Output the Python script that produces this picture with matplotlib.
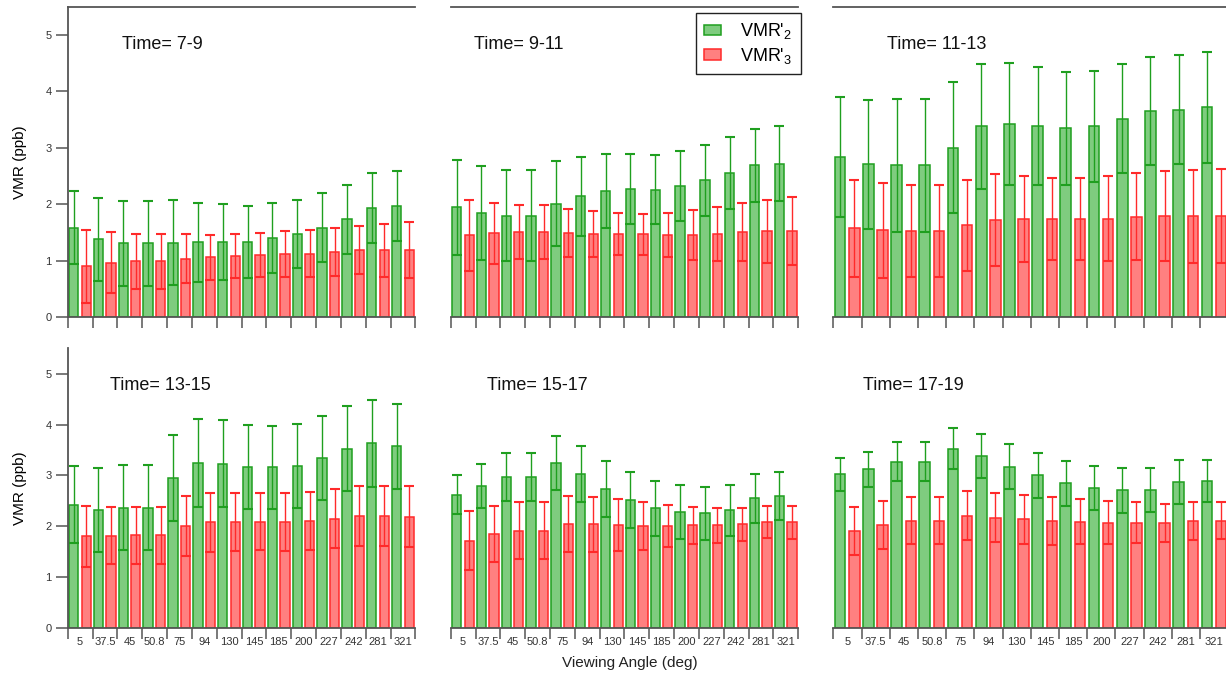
import numpy as np
import matplotlib
matplotlib.use("Agg")
import matplotlib.pyplot as plt
from matplotlib.patches import Patch

plt.rcParams['font.family'] = ['Liberation Sans', 'DejaVu Sans']
plt.rcParams['mathtext.default'] = 'regular'

angles = ['5', '37.5', '45', '50.8', '75', '94', '130', '145', '185', '200', '227', '242', '281', '321']
times = ['7-9', '9-11', '11-13', '13-15', '15-17', '17-19']

# VMR'2 (green) and VMR'3 (red), with error bars, one set per time window
vmr2_7_9 = [1.59, 1.38, 1.31, 1.31, 1.32, 1.33, 1.33, 1.34, 1.40, 1.48, 1.59, 1.74, 1.94, 1.98]
err2_7_9 = [0.65, 0.74, 0.75, 0.75, 0.75, 0.70, 0.67, 0.64, 0.62, 0.60, 0.61, 0.61, 0.62, 0.62]
vmr3_7_9 = [0.90, 0.97, 0.99, 0.99, 1.04, 1.06, 1.09, 1.10, 1.12, 1.13, 1.16, 1.19, 1.19, 1.19]
err3_7_9 = [0.65, 0.54, 0.49, 0.49, 0.43, 0.40, 0.39, 0.39, 0.40, 0.41, 0.42, 0.43, 0.47, 0.49]

vmr2_9_11 = [1.95, 1.85, 1.80, 1.80, 2.01, 2.14, 2.24, 2.28, 2.26, 2.33, 2.43, 2.56, 2.69, 2.72]
err2_9_11 = [0.84, 0.83, 0.81, 0.81, 0.75, 0.70, 0.65, 0.62, 0.61, 0.62, 0.63, 0.64, 0.65, 0.66]
vmr3_9_11 = [1.45, 1.49, 1.51, 1.51, 1.49, 1.48, 1.48, 1.47, 1.45, 1.46, 1.48, 1.51, 1.52, 1.53]
err3_9_11 = [0.63, 0.54, 0.48, 0.48, 0.43, 0.41, 0.37, 0.36, 0.39, 0.44, 0.48, 0.52, 0.56, 0.60]

vmr2_11_13 = [2.84, 2.71, 2.69, 2.69, 3.00, 3.38, 3.42, 3.39, 3.35, 3.38, 3.52, 3.65, 3.68, 3.72]
err2_11_13 = [1.07, 1.14, 1.18, 1.18, 1.16, 1.11, 1.08, 1.04, 1.00, 0.99, 0.97, 0.96, 0.97, 0.98]
vmr3_11_13 = [1.58, 1.54, 1.53, 1.53, 1.63, 1.72, 1.74, 1.74, 1.74, 1.75, 1.78, 1.80, 1.79, 1.79]
err3_11_13 = [0.86, 0.84, 0.81, 0.81, 0.81, 0.81, 0.76, 0.73, 0.73, 0.75, 0.77, 0.80, 0.82, 0.83]

vmr2_13_15 = [2.43, 2.32, 2.37, 2.37, 2.95, 3.25, 3.23, 3.17, 3.16, 3.19, 3.34, 3.53, 3.63, 3.57]
err2_13_15 = [0.75, 0.82, 0.83, 0.83, 0.85, 0.86, 0.85, 0.83, 0.82, 0.82, 0.83, 0.84, 0.85, 0.83]
vmr3_13_15 = [1.81, 1.82, 1.83, 1.83, 2.00, 2.08, 2.09, 2.09, 2.09, 2.11, 2.15, 2.20, 2.20, 2.19]
err3_13_15 = [0.60, 0.56, 0.56, 0.56, 0.59, 0.58, 0.57, 0.56, 0.57, 0.57, 0.58, 0.59, 0.59, 0.60]

vmr2_15_17 = [2.62, 2.79, 2.97, 2.97, 3.24, 3.02, 2.73, 2.51, 2.36, 2.28, 2.26, 2.32, 2.55, 2.59]
err2_15_17 = [0.38, 0.43, 0.47, 0.47, 0.53, 0.55, 0.55, 0.55, 0.54, 0.53, 0.52, 0.50, 0.48, 0.47]
vmr3_15_17 = [1.72, 1.86, 1.92, 1.92, 2.05, 2.04, 2.02, 2.00, 2.01, 2.02, 2.02, 2.04, 2.09, 2.08]
err3_15_17 = [0.58, 0.55, 0.55, 0.55, 0.55, 0.54, 0.51, 0.47, 0.42, 0.37, 0.35, 0.32, 0.32, 0.33]

vmr2_17_19 = [3.02, 3.12, 3.27, 3.27, 3.53, 3.39, 3.17, 3.00, 2.85, 2.76, 2.71, 2.72, 2.88, 2.89]
err2_17_19 = [0.32, 0.34, 0.38, 0.38, 0.40, 0.43, 0.44, 0.44, 0.44, 0.43, 0.44, 0.43, 0.43, 0.41]
vmr3_17_19 = [1.91, 2.02, 2.11, 2.11, 2.21, 2.17, 2.14, 2.11, 2.09, 2.07, 2.07, 2.07, 2.11, 2.11]
err3_17_19 = [0.47, 0.47, 0.46, 0.46, 0.48, 0.48, 0.48, 0.47, 0.44, 0.42, 0.40, 0.38, 0.37, 0.36]

panels = [
    (vmr2_7_9, err2_7_9, vmr3_7_9, err3_7_9),
    (vmr2_9_11, err2_9_11, vmr3_9_11, err3_9_11),
    (vmr2_11_13, err2_11_13, vmr3_11_13, err3_11_13),
    (vmr2_13_15, err2_13_15, vmr3_13_15, err3_13_15),
    (vmr2_15_17, err2_15_17, vmr3_15_17, err3_15_17),
    (vmr2_17_19, err2_17_19, vmr3_17_19, err3_17_19),
]

green_fill, green_edge = '#7fcc7f', '#1f9f1f'
red_fill, red_edge = '#ff8080', '#ff2a2a'
axis_col = '#555555'

fig = plt.figure(figsize=(12.26, 6.75), dpi=100)

# axes rectangles [left, bottom, width, height] in figure fraction
col_x = [(0.0552, 0.2837), (0.3676, 0.2835), (0.6797, 0.3222)]
row_y = [(0.5299, 0.4601), (0.0692, 0.4150)]
label_x = [0.156, 0.068, 0.135, 0.122, 0.104, 0.074]
label_y = [0.880, 0.880, 0.880, 0.866, 0.866, 0.866]

x = np.arange(len(angles))
for k, (v2, e2, v3, e3) in enumerate(panels):
    r, c = divmod(k, 3)
    ax = fig.add_axes([col_x[c][0], row_y[r][0], col_x[c][1], row_y[r][1]])

    ax.bar(x + 0.24, v2, width=0.38, color=green_fill, edgecolor=green_edge, linewidth=1.1, zorder=2)
    ax.bar(x + 0.745, v3, width=0.37, color=red_fill, edgecolor=red_edge, linewidth=1.1, zorder=2)
    ax.errorbar(x + 0.24, v2, yerr=e2, fmt='none', ecolor=green_edge, elinewidth=1.0,
                capsize=3.9, capthick=1.5, zorder=3)
    ax.errorbar(x + 0.745, v3, yerr=e3, fmt='none', ecolor=red_edge, elinewidth=1.0,
                capsize=3.9, capthick=1.5, zorder=3)

    ax.set_xlim(0, len(angles))
    ax.set_ylim(0, 5.5)

    ax.spines['right'].set_visible(False)
    ax.spines['top'].set_visible(r == 0)
    ax.spines['left'].set_visible(c == 0)
    for s in ax.spines.values():
        s.set_color(axis_col)
        s.set_linewidth(1.3)

    ax.set_xticks(np.arange(len(angles) + 1))
    ax.tick_params(axis='x', which='major', direction='out', length=8, width=1.1,
                   color=axis_col, labelbottom=False)
    ax.set_xticks(x + 0.5, minor=True)
    if r == 1:
        ax.set_xticklabels(angles, minor=True)
    ax.tick_params(axis='x', which='minor', length=0, pad=6, labelsize=8, labelcolor='#333333')

    if c == 0:
        ax.set_yticks(np.arange(0, 6))
        ax.tick_params(axis='y', direction='out', length=8.5, width=1.1, color=axis_col,
                       labelsize=8, labelcolor='#333333', pad=3)
        ax.set_ylabel('VMR (ppb)', fontsize=11, labelpad=13)
    else:
        ax.set_yticks([])

    ax.text(label_x[k], label_y[k], 'Time= ' + times[k], transform=ax.transAxes,
            ha='left', va='center', fontsize=13, color='#111111')

fig.text(0.5139, 0.0178, 'Viewing Angle (deg)', ha='center', va='center', fontsize=11, color='#222222')

handles = [Patch(facecolor=green_fill, edgecolor=green_edge, linewidth=1.1),
           Patch(facecolor=red_fill, edgecolor=red_edge, linewidth=1.1)]
leg = fig.legend(handles, ["VMR'$_2$", "VMR'$_3$"], loc='upper right',
                 bbox_to_anchor=(0.6531, 0.9803), fontsize=13, fancybox=False,
                 edgecolor='#222222', framealpha=1, handlelength=0.9, handleheight=0.5,
                 handletextpad=1.1, borderpad=0.45, labelspacing=0.25, borderaxespad=0)
leg.get_frame().set_linewidth(1.0)

fig.savefig('out.png', dpi=100)
